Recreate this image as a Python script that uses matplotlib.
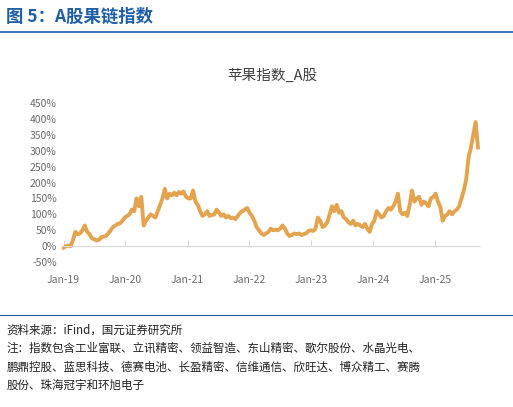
import numpy as np
import pandas as pd
import matplotlib
matplotlib.use('Agg')
import matplotlib.pyplot as plt
import matplotlib.dates as mdates

plt.rcParams['font.family'] = ['Noto Sans CJK SC', 'DejaVu Sans']

# roughly semi-monthly readings of the index (cumulative return, %)
values = [
    -5, 0, 2, 0, 20, 45, 38, 40, 50, 65, 45, 38, 25, 22, 18, 20, 28, 30, 32, 40, 50, 60, 65, 70,
    72, 80, 90, 95, 100, 115, 110, 150, 125, 155, 65, 80, 90, 100, 95, 90, 110, 130, 150, 180, 150, 165, 160, 168,
    160, 170, 165, 172, 155, 150, 150, 175, 140, 130, 110, 95, 100, 110, 95, 98, 100, 115, 105, 95, 100, 90, 95, 88,
    90, 85, 95, 105, 110, 115, 120, 105, 95, 80, 60, 50, 40, 35, 40, 45, 55, 50, 52, 50, 55, 65, 55, 40,
    32, 35, 40, 38, 40, 35, 38, 40, 48, 50, 48, 55, 90, 80, 60, 65, 75, 100, 125, 110, 130, 105, 110, 90,
    85, 75, 70, 80, 65, 70, 65, 60, 70, 55, 45, 70, 80, 110, 100, 90, 95, 110, 120, 115, 125, 140, 165, 110,
    100, 105, 95, 130, 175, 140, 150, 155, 130, 140, 135, 125, 150, 155, 165, 140, 125, 80, 95, 100, 110, 100, 110, 115,
    125, 150, 175, 210, 280, 310, 350, 390, 310,
]
dates = pd.date_range('2019-01-01', '2025-09-10', periods=len(values))

fig = plt.figure(figsize=(5.13, 4.07), dpi=100)
fig.text(0.012, 0.958, '图 5：A股果链指数', color='#1f5fa8', fontsize=12.5, fontweight='bold', va='center')
fig.add_artist(plt.Line2D([0.0, 1.0], [0.922, 0.922], color='#1f5fa8', lw=1.2))
fig.add_artist(plt.Line2D([0.0, 1.0], [0.225, 0.225], color='#1f5fa8', lw=0.8))

ax = fig.add_axes([0.12, 0.356, 0.815, 0.391])
ax.plot(dates, np.array(values) / 100, color='#e3a34f', lw=2.8)
ax.set_ylim(-0.5, 4.5)
ticks = np.arange(-0.5, 4.51, 0.5)
ax.set_yticks(ticks)
ax.set_yticklabels([f'{int(round(v*100))}%' for v in ticks])
ax.set_xlim(pd.Timestamp('2018-12-20'), pd.Timestamp('2025-09-20'))
ax.xaxis.set_major_locator(mdates.YearLocator())
ax.xaxis.set_major_formatter(mdates.DateFormatter('Jan-%y'))
for s in ['top', 'right', 'left']:
    ax.spines[s].set_visible(False)
ax.spines['bottom'].set_position(('data', 0))
ax.spines['bottom'].set_color('#d9d9d9')
ax.tick_params(axis='x', colors='#d9d9d9', labelcolor='#6b6b6b', labelsize=7.5, length=4, direction='in', pad=21)
ax.tick_params(axis='y', length=0, labelcolor='#6b6b6b', labelsize=7.5)
fig.text(0.53, 0.805, '苹果指数_A股', ha='center', fontsize=10.5, color='#404040')

foot = ('资料来源：iFind，国元证券研究所\n'
        '注：指数包含工业富联、立讯精密、领益智造、东山精密、歌尔股份、水晶光电、\n'
        '鹏鼎控股、蓝思科技、德赛电池、长盈精密、信维通信、欣旺达、博众精工、赛腾\n'
        '股份、珠海冠宇和环旭电子')
fig.text(0.012, 0.205, foot, fontsize=8.3, va='top', linespacing=1.55, color='#222222')
fig.savefig('out.png', dpi=100)
